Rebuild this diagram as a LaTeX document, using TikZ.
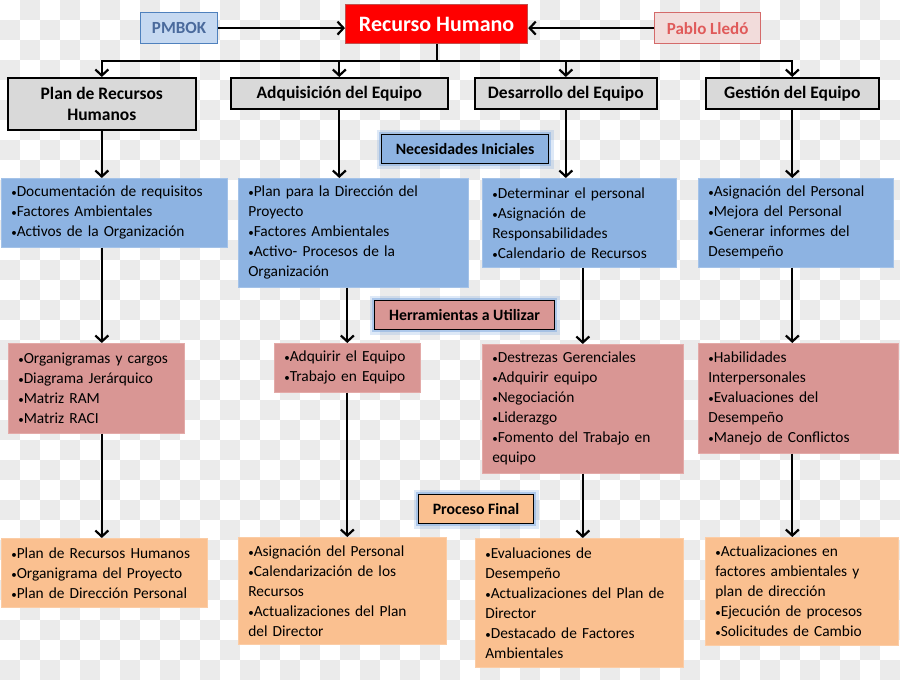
\documentclass[tikz,border=0pt]{standalone}
\usepackage{fontspec}
\setmainfont{Carlito}
\usetikzlibrary{arrows.meta,calc,positioning}
\definecolor{tinta}{HTML}{000000}
\definecolor{cuadro}{HTML}{EBEBEB}
\definecolor{gris}{HTML}{D9D9D9}
\definecolor{entrada}{HTML}{8DB3E2}
\definecolor{entradaB}{HTML}{A3C2E8}
\definecolor{herram}{HTML}{D99694}
\definecolor{herramB}{HTML}{E3AAA8}
\definecolor{salida}{HTML}{FAC090}
\definecolor{salidaB}{HTML}{FBCCA5}
\definecolor{rojo}{HTML}{FF0000}
\definecolor{rojoB}{HTML}{C0504D}
\definecolor{pmbokF}{HTML}{C6D9F1}
\definecolor{pmbokB}{HTML}{4F81BD}
\definecolor{pmbokT}{HTML}{4A6A9C}
\definecolor{pabloF}{HTML}{F2DCDB}
\definecolor{pabloB}{HTML}{D46A6A}
\definecolor{pabloT}{HTML}{E05A5A}
\definecolor{brillo}{HTML}{7EA9E0}
\newcommand{\vin}{{\fontsize{11}{11}\selectfont •}}
\tikzset{
  % ---- cabecera --------------------------------------------------
  raiz/.style    = {anchor=north west, draw=rojoB, fill=rojo, line width=1.2pt,
                    text=white, inner sep=0pt,
                    font=\fontsize{22}{26}\selectfont\bfseries},
  fuente/.style  = {anchor=north west, line width=1.2pt, inner sep=0pt,
                    font=\fontsize{17}{20}\selectfont\bfseries},
  proc/.style    = {anchor=north west, draw=tinta, fill=gris, line width=1.6pt,
                    align=center, inner sep=0pt,
                    font=\fontsize{17.5}{21}\selectfont\bfseries},
  % ---- cajas de contenido ----------------------------------------
  caja/.style 2 args = {anchor=north west, minimum width=#1, text width=#1-20pt,
                    minimum height=#2, inner xsep=10pt, inner ysep=0pt,
                    align=left, line width=.6pt,
                    font=\fontsize{15.4}{20}\selectfont,
                    execute at begin node=\hyphenpenalty10000\relax},
  entra/.style   = {fill=entrada, draw=entradaB},
  herr/.style    = {fill=herram, draw=herramB},
  sale/.style    = {fill=salida, draw=salidaB},
  % ---- etiquetas de fase -----------------------------------------
  etiq/.style    = {anchor=north west, draw=tinta, line width=1.2pt, inner sep=0pt,
                    font=\fontsize{15.8}{18}\selectfont\bfseries,
                    preaction={draw=brillo, line width=10pt, opacity=.25},
                    preaction={draw=brillo, line width=5pt, opacity=.5}},
  % ---- conectores ------------------------------------------------
  flecha/.style  = {draw=tinta, line width=2.2pt,
                    -{Straight Barb[length=6pt,width=13pt]}},
}
\begin{document}
\begin{tikzpicture}[x=1pt, y=-1pt]
\useasboundingbox (0,0) rectangle (900,680);
\begin{scope}
\clip (0,0) rectangle (900,680);
\fill[white] (0,0) rectangle (900,680);
\foreach \i in {0,2,...,44}
  \foreach \j in {0,2,...,34}
  {\fill[cuadro] (\i*20+20,\j*20) rectangle ++(20,20);
   \fill[cuadro] (\i*20,\j*20+20) rectangle ++(20,20);}
\end{scope}
% cabecera
\node[fuente, draw=pmbokB, fill=pmbokF, text=pmbokT, minimum width=77pt, minimum height=31pt] (pmbok) at (140,12) {PMBOK};
\node[raiz, minimum width=182pt, minimum height=39pt] (rh) at (345,4) {Recurso Humano};
\node[fuente, draw=pabloB, fill=pabloF, text=pabloT, minimum width=106pt, minimum height=31pt] (pablo) at (654,12) {Pablo Lledó};
\draw[flecha] (pmbok.east) -- (pmbok.east -| rh.west);
\draw[flecha] (pablo.west) -- (pablo.west -| rh.east);
% procesos
\node[proc, minimum width=188pt, minimum height=52pt] (h1) at (7,77) {Plan de Recursos\\Humanos};
\node[proc, minimum width=217pt, minimum height=31pt] (h2) at (230,77) {Adquisición del Equipo};
\node[proc, minimum width=182pt, minimum height=31pt] (h3) at (474,77) {Desarrollo del Equipo};
\node[proc, minimum width=173pt, minimum height=31pt] (h4) at (705,77) {Gestión del Equipo};
\draw[flecha] (rh.south) -- ++(0,17) -| (h1.north);
\draw[flecha] (rh.south) -- ++(0,17) -| (h2.north);
\draw[flecha] (rh.south) -- ++(0,17) -| (h3.north);
\draw[flecha] (rh.south) -- ++(0,17) -| (h4.north);
% entradas
\node[etiq, fill=entrada, minimum width=167pt, minimum height=29pt] (lbE) at (381,134) {Necesidades Iniciales};
\node[caja={226pt}{69pt}, entra] (e1) at (1,178) {\vin Documentación de requisitos\\\vin Factores Ambientales\\\vin Activos de la Organización};
\node[caja={230pt}{109pt}, entra] (e2) at (238,178) {\vin Plan para la Dirección del\\Proyecto\\\vin Factores Ambientales\\\vin Activo- Procesos de la\\Organización};
\node[caja={194pt}{89pt}, entra] (e3) at (482,178) {\vin Determinar el personal\\\vin Asignación de\\Responsabilidades\\\vin Calendario de Recursos};
\node[caja={195pt}{89pt}, entra] (e4) at (698,178) {\vin Asignación del Personal\\\vin Mejora del Personal\\\vin Generar informes del\\Desempeño};
\draw[flecha] (h1.south) -- (h1.south |- e1.north);
\draw[flecha] (h2.south) -- (h2.south |- e2.north);
\draw[flecha] (h3.south) -- (h3.south |- e3.north);
\draw[flecha] (h4.south) -- (h4.south |- e4.north);
% herramientas
\node[etiq, fill=herram, minimum width=180pt, minimum height=29pt] (lbH) at (374,300) {Herramientas a Utilizar};
\node[caja={176pt}{90pt}, herr] (t1) at (8,343) {\vin Organigramas y cargos\\\vin Diagrama Jerárquico\\\vin Matriz RAM\\\vin Matriz RACI};
\node[caja={146pt}{49pt}, herr] (t2) at (274,343) {\vin Adquirir el Equipo\\\vin Trabajo en Equipo};
\node[caja={201pt}{129pt}, herr] (t3) at (482,344) {\vin Destrezas Gerenciales\\\vin Adquirir equipo\\\vin Negociación\\\vin Liderazgo\\\vin Fomento del Trabajo en\\equipo};
\node[caja={200pt}{110pt}, herr] (t4) at (698,343) {\vin Habilidades\\Interpersonales\\\vin Evaluaciones del\\Desempeño\\\vin Manejo de Conflictos};
\draw[flecha] (e1.south -| h1.south) -- (h1.south |- t1.north);
\draw[flecha] (t2.north |- e2.south) -- (t2.north);
\draw[flecha] (t3.north |- e3.south) -- (t3.north);
\draw[flecha] (e4.south -| h4.south) -- (h4.south |- t4.north);
% salidas
\node[etiq, fill=salida, minimum width=115pt, minimum height=29pt] (lbS) at (418,494) {Proceso Final};
\node[caja={206pt}{69pt}, sale] (s1) at (1,538) {\vin Plan de Recursos Humanos\\\vin Organigrama del Proyecto\\\vin Plan de Dirección Personal};
\node[caja={208pt}{107pt}, sale] (s2) at (238,537) {\vin Asignación del Personal\\\vin Calendarización de los\\Recursos\\\vin Actualizaciones del Plan\\del Director};
\node[caja={208pt}{129pt}, sale] (s3) at (475,538) {\vin Evaluaciones de\\Desempeño\\\vin Actualizaciones del Plan de\\Director\\\vin Destacado de Factores\\Ambientales};
\node[caja={193pt}{108pt}, sale] (s4) at (705,537) {\vin Actualizaciones en\\factores ambientales y\\plan de dirección\\\vin Ejecución de procesos\\\vin Solicitudes de Cambio};
\draw[flecha] (t1.south -| h1.south) -- (h1.south |- s1.north);
\draw[flecha] (t2.south) -- (t2.south |- s2.north);
\draw[flecha] (t3.south) -- (t3.south |- s3.north);
\draw[flecha] (t4.south -| h4.south) -- (h4.south |- s4.north);
\end{tikzpicture}
\end{document}
